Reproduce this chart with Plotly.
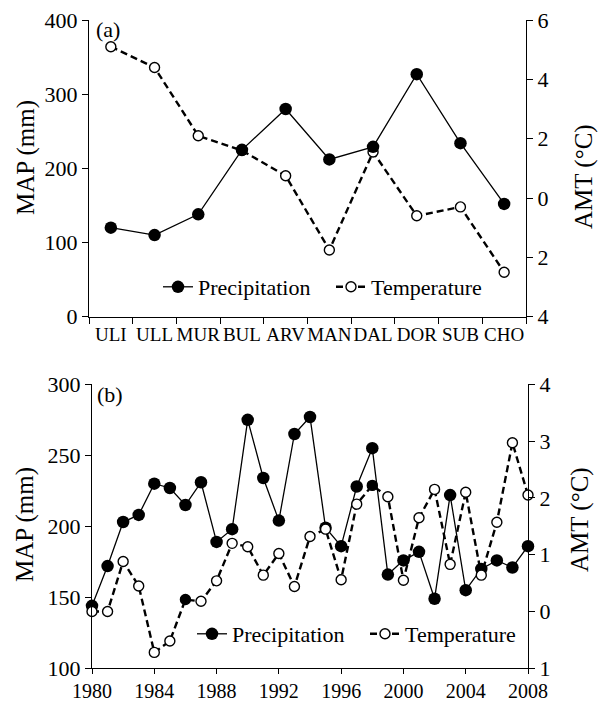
import plotly.graph_objects as go

# ---------------- data ----------------
sites = ["ULI", "ULL", "MUR", "BUL", "ARV", "MAN", "DAL", "DOR", "SUB", "CHO"]
map_a = [120, 110, 138, 225, 280, 212, 229, 327, 234, 152]
amt_a = [5.1, 4.4, 2.1, 1.6, 0.75, -1.75, 1.55, -0.6, -0.3, -2.5]

years = list(range(1980, 2009))
map_b = [144, 172, 203, 208, 230, 227, 215, 231, 189, 198, 275, 234, 204, 265, 277,
         199, 186, 228, 255, 166, 176, 182, 149, 222, 155, 170, 176, 171, 186]
amt_b = [0.0, 0.0, 0.88, 0.45, -0.72, -0.52, 0.21, 0.18, 0.54, 1.2, 1.14, 0.64, 1.02, 0.44, 1.32,
         1.45, 0.56, 1.89, 2.22, 2.02, 0.55, 1.65, 2.15, 0.83, 2.1, 0.64, 1.57, 2.97, 2.05]

amt_a_tickvals = [-4, -2, 0, 2, 4, 6]
amt_a_ticktext = ["4", "2", "0", "2", "4", "6"]
amt_b_tickvals = [-1, 0, 1, 2, 3, 4]
amt_b_ticktext = ["1", "0", "1", "2", "3", "4"]

filled_temp_years = [1986, 1998]

W, H = 599, 702
FONT = "Liberation Serif"

def px_x(p):
    return p / W

def px_y(p):
    return 1 - p / H

fig = go.Figure()

temp_b_colors = ["black" if y in filled_temp_years else "white" for y in years]

# panel (a)
fig.add_trace(go.Scatter(
    x=sites, y=map_a, xaxis="x", yaxis="y2", name="Precipitation",
    mode="lines+markers", line=dict(color="black", width=1.3),
    marker=dict(color="black", size=12.5), cliponaxis=False, legend="legend"))
fig.add_trace(go.Scatter(
    x=sites, y=amt_a, xaxis="x", yaxis="y", name="Temperature",
    mode="lines+markers", line=dict(color="black", width=2.4, dash="7px,4px"),
    marker=dict(color="white", size=10, line=dict(color="black", width=1.4)),
    cliponaxis=False, legend="legend"))

# panel (b)
fig.add_trace(go.Scatter(
    x=years, y=map_b, xaxis="x2", yaxis="y3", name="Precipitation",
    mode="lines+markers", line=dict(color="black", width=1.3),
    marker=dict(color="black", size=12.5), cliponaxis=False, legend="legend2"))
fig.add_trace(go.Scatter(
    x=years, y=amt_b, xaxis="x2", yaxis="y4", name="Temperature",
    mode="lines+markers", line=dict(color="black", width=2.4, dash="7px,4px"),
    marker=dict(color=temp_b_colors, size=10, line=dict(color="black", width=1.4)),
    cliponaxis=False, legend="legend2"))

TICK = 22
axis_common = dict(showline=True, linecolor="black", linewidth=1.3, ticks="outside",
                   ticklen=6, tickwidth=1.3, tickcolor="black", showgrid=False,
                   zeroline=False, automargin=False,
                   tickfont=dict(family=FONT, size=TICK, color="black"))

top_dom = [px_y(316.7), px_y(20)]
bot_dom = [px_y(668.3), px_y(384.3)]

fig.update_layout(
    width=W, height=H, autosize=False,
    margin=dict(l=0, r=0, t=0, b=0),
    paper_bgcolor="white", plot_bgcolor="white",
    font=dict(family=FONT, color="black"),
    xaxis=dict(domain=[px_x(89), px_x(526)], anchor="y", type="category",
               range=[-0.5, 9.5], tickson="boundaries", tickangle=0,
               **{**axis_common, "tickfont": dict(family=FONT, size=19, color="black")}),
    yaxis=dict(domain=top_dom, anchor="x", side="right", range=[-4, 6],
               tickvals=amt_a_tickvals, ticktext=amt_a_ticktext, **axis_common),
    yaxis2=dict(overlaying="y", anchor="x", side="left", range=[0, 400],
                tickvals=[0, 100, 200, 300, 400], **axis_common),
    xaxis2=dict(domain=[px_x(92), px_x(528)], anchor="y3", range=[1980, 2008],
                tick0=1980, dtick=4,
                **{**axis_common, "ticklen": 5,
                   "tickfont": dict(family=FONT, size=20, color="black")}),
    yaxis3=dict(domain=bot_dom, anchor="x2", side="left", range=[100, 300],
                tickvals=[100, 150, 200, 250, 300], **axis_common),
    yaxis4=dict(overlaying="y3", anchor="x2", side="right", range=[-1, 4],
                tickvals=amt_b_tickvals, ticktext=amt_b_ticktext, **axis_common),
    legend=dict(orientation="h", x=px_x(158), xanchor="left", y=px_y(287),
                yanchor="middle", bgcolor="rgba(0,0,0,0)", entrywidth=128,
                font=dict(family=FONT, size=22, color="black")),
    legend2=dict(orientation="h", x=px_x(192), xanchor="left", y=px_y(634),
                 yanchor="middle", bgcolor="rgba(0,0,0,0)", entrywidth=128,
                 font=dict(family=FONT, size=22, color="black")),
    showlegend=True,
)

ann_font = dict(family=FONT, size=22, color="black")
fig.add_annotation(text="(a)", xref="paper", yref="paper", x=px_x(94), y=px_y(30),
                   xanchor="left", yanchor="middle", showarrow=False, font=ann_font)
fig.add_annotation(text="(b)", xref="paper", yref="paper", x=px_x(95), y=px_y(394),
                   xanchor="left", yanchor="middle", showarrow=False, font=ann_font)
title_font = dict(family=FONT, size=25, color="black")
fig.add_annotation(text="MAP (mm)", xref="paper", yref="paper", x=px_x(26), y=px_y(158),
                   xanchor="center", yanchor="middle", textangle=-90, showarrow=False,
                   font=title_font)
fig.add_annotation(text="AMT (°C)", xref="paper", yref="paper", x=px_x(584), y=px_y(177),
                   xanchor="center", yanchor="middle", textangle=-90, showarrow=False,
                   font=title_font)
fig.add_annotation(text="MAP (mm)", xref="paper", yref="paper", x=px_x(25), y=px_y(525),
                   xanchor="center", yanchor="middle", textangle=-90, showarrow=False,
                   font=title_font)
fig.add_annotation(text="AMT (°C)", xref="paper", yref="paper", x=px_x(580), y=px_y(520),
                   xanchor="center", yanchor="middle", textangle=-90, showarrow=False,
                   font=title_font)

fig.write_html("out.html")
